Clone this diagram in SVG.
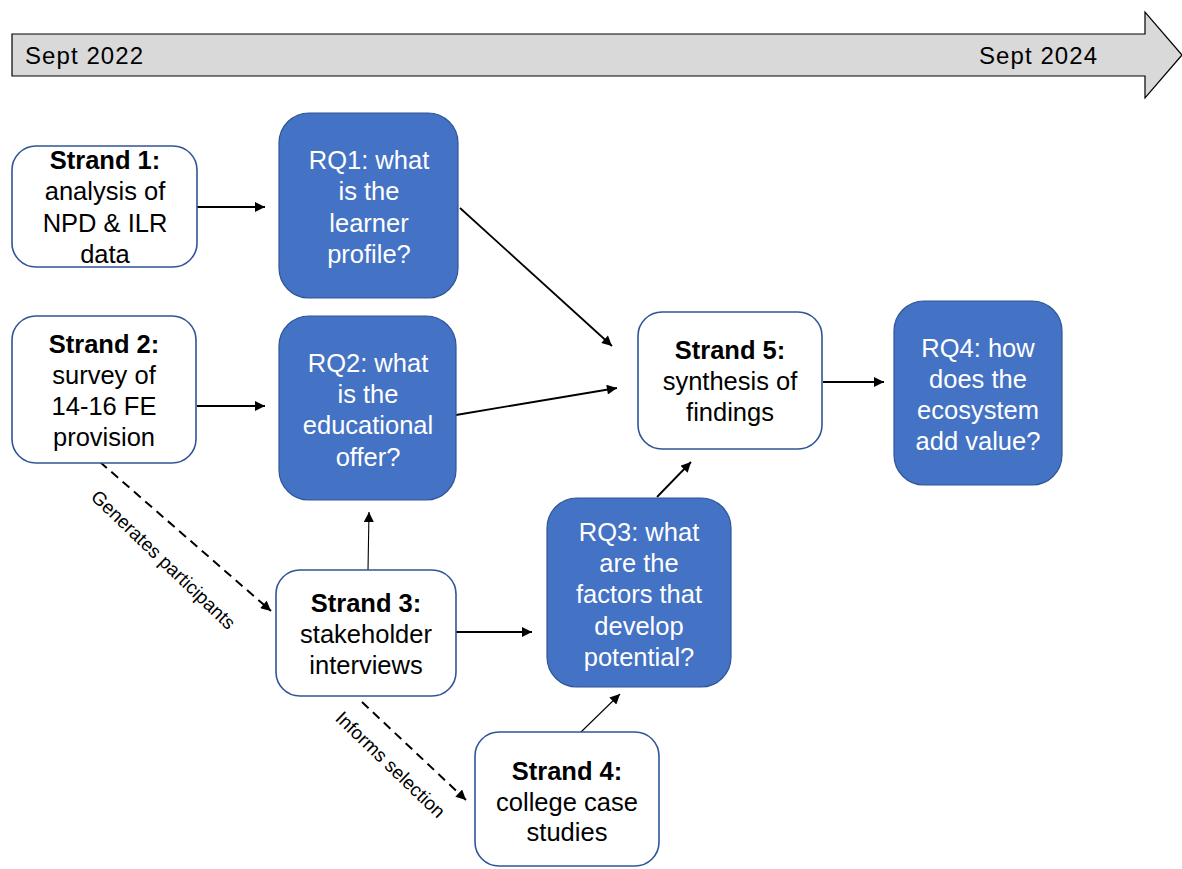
<svg xmlns="http://www.w3.org/2000/svg" width="1182" height="869" viewBox="0 0 1182 869">
<style>
.wbox{fill:#ffffff;stroke:#2F5597;stroke-width:1.6}
.bbox{fill:#4472C4;stroke:#2F5597;stroke-width:1.2}
.t{font-family:"Liberation Sans",Arial,sans-serif;font-size:25.5px;text-anchor:middle}
.dk{fill:#000000}
.wt{fill:#ffffff}
.b{font-weight:bold}
.ln{fill:none;stroke:#000000;stroke-width:1.8}
.thin{fill:none;stroke:#000000;stroke-width:1.1}
.dash{fill:none;stroke:#000000;stroke-width:2;stroke-dasharray:9,6}
.lbl{font-family:"Liberation Sans",Arial,sans-serif;font-size:19px;fill:#000000;text-anchor:middle}
.tl{font-family:"Liberation Sans",Arial,sans-serif;font-size:24px;fill:#000000}
</style>
<defs>
<marker id="ah" viewBox="0 0 10 10" refX="10" refY="5" markerWidth="11" markerHeight="10" markerUnits="userSpaceOnUse" orient="auto">
<path d="M0,0 L10,5 L0,10 Z" fill="#000000"/>
</marker>
</defs>
<rect width="1182" height="869" fill="#ffffff"/>
<g id="timeline">
<path d="M12,34 L1145,34 L1145,12 L1182,55 L1145,98 L1145,76 L12,76 Z" fill="#D9D9D9" stroke="#000000" stroke-width="1.2"/>
<text class="tl" x="25" y="64" textLength="118">Sept 2022</text>
<text class="tl" x="979" y="64" textLength="118">Sept 2024</text>
</g>
<g id="connectors">
<line class="ln" x1="197" y1="207" x2="265" y2="207" marker-end="url(#ah)"/>
<line class="ln" x1="197" y1="406" x2="265" y2="406" marker-end="url(#ah)"/>
<line class="ln" x1="460" y1="208" x2="612" y2="346" marker-end="url(#ah)"/>
<line class="ln" x1="456" y1="415" x2="617" y2="388" marker-end="url(#ah)"/>
<line class="ln" x1="823" y1="382" x2="884" y2="382" marker-end="url(#ah)"/>
<line class="thin" x1="368" y1="570" x2="369" y2="512" marker-end="url(#ah)"/>
<line class="ln" x1="456" y1="632" x2="532" y2="632" marker-end="url(#ah)"/>
<line class="ln" x1="657" y1="497" x2="691" y2="462" marker-end="url(#ah)"/>
<line class="thin" x1="581" y1="732" x2="620" y2="694" marker-end="url(#ah)"/>
<line class="dash" x1="100" y1="462" x2="271" y2="611" marker-end="url(#ah)"/>
<line class="dash" x1="362" y1="702" x2="466" y2="800" marker-end="url(#ah)"/>
<text class="lbl" transform="translate(163,560) rotate(43.8)" y="6">Generates participants</text>
<text class="lbl" transform="translate(390,765) rotate(44)" y="6">Informs selection</text>
</g>
<g id="strand1">
<rect class="wbox" x="12" y="146" width="185" height="121" rx="24"/>
<text class="t dk b" x="105" y="169">Strand 1:</text>
<text class="t dk" x="105" y="200">analysis of</text>
<text class="t dk" x="105" y="232">NPD &amp; ILR</text>
<text class="t dk" x="105" y="263">data</text>
</g>
<g id="rq1">
<rect class="bbox" x="279" y="113" width="179" height="185" rx="30"/>
<text class="t wt" x="369" y="169">RQ1: what</text>
<text class="t wt" x="369" y="200">is the</text>
<text class="t wt" x="369" y="232">learner</text>
<text class="t wt" x="369" y="263">profile?</text>
</g>
<g id="strand2">
<rect class="wbox" x="12" y="316" width="184" height="147" rx="24"/>
<text class="t dk b" x="104" y="353">Strand 2:</text>
<text class="t dk" x="104" y="384">survey of</text>
<text class="t dk" x="104" y="415">14-16 FE</text>
<text class="t dk" x="104" y="446">provision</text>
</g>
<g id="rq2">
<rect class="bbox" x="279" y="316" width="177" height="184" rx="30"/>
<text class="t wt" x="368" y="372">RQ2: what</text>
<text class="t wt" x="368" y="403">is the</text>
<text class="t wt" x="368" y="434">educational</text>
<text class="t wt" x="368" y="466">offer?</text>
</g>
<g id="strand5">
<rect class="wbox" x="638" y="312" width="184" height="137" rx="24"/>
<text class="t dk b" x="730" y="359">Strand 5:</text>
<text class="t dk" x="730" y="390">synthesis of</text>
<text class="t dk" x="730" y="421">findings</text>
</g>
<g id="rq4">
<rect class="bbox" x="894" y="301" width="168" height="184" rx="30"/>
<text class="t wt" x="978" y="357">RQ4: how</text>
<text class="t wt" x="978" y="388">does the</text>
<text class="t wt" x="978" y="419">ecosystem</text>
<text class="t wt" x="978" y="450">add value?</text>
</g>
<g id="rq3">
<rect class="bbox" x="547" y="498" width="184" height="189" rx="30"/>
<text class="t wt" x="639" y="541">RQ3: what</text>
<text class="t wt" x="639" y="572">are the</text>
<text class="t wt" x="639" y="603">factors that</text>
<text class="t wt" x="639" y="635">develop</text>
<text class="t wt" x="639" y="666">potential?</text>
</g>
<g id="strand3">
<rect class="wbox" x="276" y="570" width="180" height="126" rx="24"/>
<text class="t dk b" x="366" y="612">Strand 3:</text>
<text class="t dk" x="366" y="643">stakeholder</text>
<text class="t dk" x="366" y="674">interviews</text>
</g>
<g id="strand4">
<rect class="wbox" x="475" y="732" width="184" height="134" rx="24"/>
<text class="t dk b" x="567" y="780">Strand 4:</text>
<text class="t dk" x="567" y="811">college case</text>
<text class="t dk" x="567" y="841">studies</text>
</g>
</svg>
